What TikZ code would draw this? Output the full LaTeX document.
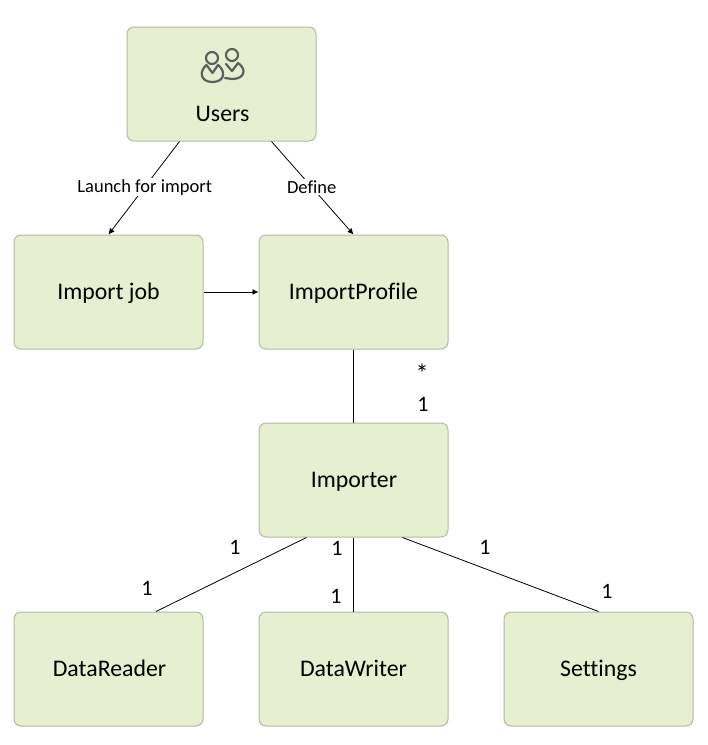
\documentclass[tikz,border=0pt]{standalone}
\usepackage{fontspec}
\setmainfont[Ligatures=NoCommon]{Carlito}
\usetikzlibrary{arrows.meta}
\definecolor{boxfill}{HTML}{E6EFCF}
\definecolor{boxline}{HTML}{B4B8A4}
\definecolor{iconc}{HTML}{5F5F5F}
\tikzset{
  boxn/.style={draw=boxline,line width=1pt,fill=boxfill,rounded corners=7pt,minimum width=189pt,minimum height=114pt,inner sep=0pt,text height=18pt,text depth=4pt,font=\fontsize{23.8}{28}\selectfont,text=black},
  conn/.style={draw=black,line width=0.8pt},
  arr/.style={conn,-{Latex[length=6pt,width=6pt]}},
  lab/.style={fill=white,inner sep=1.5pt,font=\fontsize{18.5}{22}\selectfont,text=black},
  mult/.style={inner sep=0pt,font=\fontsize{22}{26}\selectfont,text=black},
  icn/.style={draw=iconc,line width=2.2pt,line cap=round,line join=round}
}
\begin{document}
\begin{tikzpicture}[x=1pt,y=-1pt]
\useasboundingbox (0,0) rectangle (708,745);
\node[boxn] (users) at (221.5,84) {};
\node[inner sep=0pt,font=\fontsize{23.8}{28}\selectfont] (userst) at (222.5,114) {Users};
\node[boxn] (job) at (108.5,292) {Import job};
\node[boxn] (profile) at (353.5,292) {ImportProfile};
\node[boxn] (importer) at (353.5,480) {\hspace{1pt}Importer};
\node[boxn] (reader) at (108.5,669) {\hspace{2pt}DataReader};
\node[boxn] (writer) at (353.5,669) {DataWriter};
\node[boxn] (settings) at (598.5,669) {Settings};
% icon
\draw[icn] (212,58) circle (6);
\draw[icn] (232,55) circle (6);
\draw[icn] (206.5,65) .. controls (199,71) and (200,82) .. (212.5,82) .. controls (225,82) and (226,71) .. (218,65) -- (212.5,73) -- cycle;
\draw[icn] (226,64) -- (232,71) -- (238,63) .. controls (247,69) and (245,79) .. (232,79) -- (225,78);
% connectors
\coordinate (u1) at ([xshift=53pt]users.south west);
\coordinate (u2) at ([xshift=-45pt]users.south east);
\draw[arr] (u1) -- node[lab,pos=0.49] (l1) {Launch for import} (job.north);
\draw[arr] (u2) -- node[lab,pos=0.49] (l2) {Define} (profile.north);
\draw[arr] (job.east) -- (profile.west);
\draw[conn] (profile.south) -- (importer.north);
\coordinate (i1) at ([xshift=48pt]importer.south west);
\coordinate (i2) at ([xshift=-46pt]importer.south east);
\coordinate (r1) at ([xshift=47.5pt]reader.north);
\draw[conn] (i1) -- (r1);
\draw[conn] (importer.south) -- (writer.north);
\draw[conn] (i2) -- (settings.north);
% multiplicities
\node[mult,font=\fontsize{26}{30}\selectfont] (m1) at (422,373) {*};
\node[mult] (m2) at (423,404) {1};
\node[mult] (m3) at (235,547) {1};
\node[mult] (m4) at (147,588) {1};
\node[mult] (m5) at (337,548) {1};
\node[mult] (m6) at (336,596) {1};
\node[mult] (m7) at (485,547) {1};
\node[mult] (m8) at (607,591) {1};
\end{tikzpicture}
\end{document}
